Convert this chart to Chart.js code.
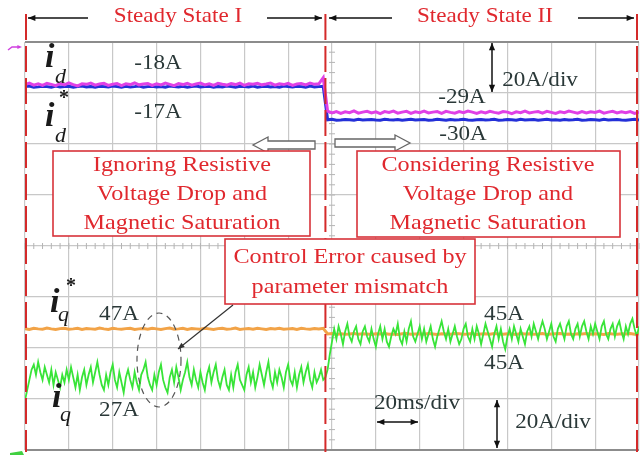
<!DOCTYPE html>
<html>
<head>
<meta charset="utf-8">
<script src="https://cdn.jsdelivr.net/npm/chart.js@4"></script>
<style>
  body { margin: 0; background: #fff; }
  canvas { display: block; }
</style>
</head>
<body>
<canvas id="scope" width="640" height="455"></canvas>
<script>
// time base: 20 ms/div, 14 divisions; switch to steady state II at ~137 ms
const stepCoarse = 2;   // ms, id / id* / iq*
const stepFine = 1;     // ms, iq

// id (magenta), A
const idLeft = [
  -18.2,-17.6,-18.4,-17.9,-18.5,-17.7,-18.1,-18.6,-17.8,-18.3,
  -17.5,-18.2,-18.7,-17.9,-18.1,-17.6,-18.4,-18.0,-17.7,-18.5,
  -18.1,-17.8,-18.6,-17.9,-18.2,-17.5,-18.3,-18.0,-17.8,-18.5,
  -17.9,-18.3,-17.6,-18.1,-18.6,-17.8,-18.2,-17.7,-18.4,-18.0,
  -17.6,-18.3,-17.9,-18.5,-17.7,-18.1,-18.4,-17.8,-18.2,-17.6,
  -18.5,-17.9,-18.1,-17.7,-18.3,-18.0,-17.6,-18.4,-17.9,-18.2,
  -17.7,-18.5,-18.0,-17.8,-18.3,-17.6,-18.1,-17.9,-15.5
];
const idRight = [
  -28.6,-29.3,-28.8,-29.5,-28.9,-29.2,-28.5,-29.4,-29.0,-28.7,
  -29.3,-28.9,-29.6,-28.8,-29.1,-28.6,-29.4,-29.0,-28.7,-29.5,
  -28.9,-29.2,-28.6,-29.3,-29.0,-28.8,-29.5,-28.7,-29.1,-29.4,
  -28.8,-29.2,-28.6,-29.0,-29.5,-28.9,-29.3,-28.7,-29.1,-29.4,
  -28.8,-29.0,-29.6,-28.9,-29.2,-28.6,-29.3,-29.0,-28.8,-29.4,
  -28.7,-29.1,-29.5,-28.9,-29.2,-28.6,-29.0,-29.4,-28.8,-29.3,
  -28.9,-29.1,-28.6,-29.4,-29.0,-28.7,-29.3,-28.9,-29.2,-28.8,
  -29.5,-29.0
];

// id* (blue), A
const idRefLeft = [
  -17.0,-16.8,-17.2,-17.1,-16.9,-17.0,-17.2,-16.8,-17.1,-17.0,
  -16.9,-17.2,-17.0,-16.8,-17.1,-17.0,-17.2,-16.9,-17.0,-17.1,
  -16.8,-17.0,-17.2,-16.9,-17.1,-17.0,-16.8,-17.2,-17.0,-16.9,
  -17.1,-17.0,-17.2,-16.8,-17.0,-17.1,-16.9,-17.2,-17.0,-16.8,
  -17.1,-17.0,-16.9,-17.2,-17.0,-17.1,-16.8,-17.0,-17.2,-16.9,
  -17.0,-17.1,-16.8,-17.2,-17.0,-16.9,-17.1,-17.0,-17.2,-16.8,
  -17.0,-17.1,-16.9,-17.0,-17.2,-16.8,-17.1,-17.0,-16.9
];
const idRefRight = [
  -30.0,-29.8,-30.2,-30.1,-29.9,-30.0,-30.2,-29.8,-30.1,-30.0,
  -29.9,-30.1,-30.2,-29.8,-30.0,-30.1,-29.9,-30.2,-30.0,-29.8,
  -30.1,-30.0,-29.9,-30.2,-30.1,-29.8,-30.0,-30.2,-29.9,-30.1,
  -30.0,-29.8,-30.1,-30.2,-30.0,-29.9,-30.1,-30.0,-29.8,-30.2,
  -30.1,-29.9,-30.0,-30.2,-29.8,-30.1,-30.0,-29.9,-30.2,-30.0,
  -29.8,-30.1,-30.0,-30.2,-29.9,-30.1,-30.0,-29.8,-30.2,-30.1,
  -29.9,-30.0,-30.2,-29.8,-30.1,-30.0,-29.9,-30.1,-30.2,-30.0,
  -29.8,-30.1
];

// iq* (orange), A
const iqRefLeft = [
  47.1,46.8,47.2,47.0,46.9,47.3,47.0,46.8,47.1,47.2,
  46.9,47.0,47.2,46.8,47.1,47.0,46.9,47.3,47.0,46.8,
  47.2,47.0,46.9,47.1,47.2,46.8,47.0,47.1,46.9,47.2,
  47.0,46.8,47.1,47.3,46.9,47.0,47.2,46.8,47.1,47.0,
  46.9,47.2,47.0,46.8,47.1,47.2,46.9,47.0,47.3,46.8,
  47.0,47.1,46.9,47.2,47.0,46.8,47.1,47.0,47.2,46.9,
  47.0,47.1,46.8,47.2,47.0,46.9,47.1,47.0,47.2
];
const iqRefRight = [
  45.0,45.2,44.8,45.1,44.9,45.0,45.2,44.9,45.1,45.0,
  44.8,45.1,45.0,45.2,44.9,45.0,44.8,45.1,45.2,44.9,
  45.0,45.1,44.9,45.2,45.0,44.8,45.1,45.0,44.9,45.2,
  45.1,44.9,45.0,45.2,44.8,45.0,45.1,44.9,45.2,45.0,
  44.9,45.1,45.0,44.8,45.2,45.0,45.1,44.9,45.0,45.2,
  44.8,45.0,45.1,45.2,44.9,45.0,44.8,45.1,45.0,45.2,
  44.9,45.1,45.0,44.8,45.2,45.0,44.9,45.1,45.0,45.2,
  44.9,45.0
];

// iq (green), A, 1 ms samples
const iqLeft = [
  19,23,27,31,33,29,34,30,27,32,29,26,31,25,30,27,24,29,26,31,
  27,32,28,24,29,23,28,31,25,29,32,26,30,34,29,25,23,29,25,30,
  33,27,24,30,26,22,28,31,27,24,30,26,23,29,31,34,28,25,23,29,
  25,30,33,27,24,22,28,31,26,32,28,23,27,30,34,28,25,31,27,24,
  30,26,23,29,32,26,30,33,27,24,28,31,25,23,29,24,30,33,27,25,
  23,29,32,26,30,24,28,33,29,25,30,34,27,24,30,26,31,28,24,30,
  33,27,25,30,24,29,32,26,30,33,27,24,30,26,28,31,27
];
const iqRight = [
  28,31,37,42,
  47,43,48,45,41,46,49,44,42,46,
  48,43,41,46,48,44,42,47,43,40,
  45,48,43,47,42,40,44,47,45,49,
  43,41,46,42,47,50,44,42,45,48,
  43,47,42,45,48,43,40,44,47,50,
  46,43,47,42,45,48,44,41,43,47,
  49,44,42,47,43,48,45,41,45,49,
  46,43,40,45,48,43,47,42,39,44,
  47,43,48,45,42,47,44,41,46,48,
  44,49,46,43,47,50,47,43,46,49,
  44,42,47,49,46,43,48,50,45,43,
  47,49,44,48,50,46,43,48,45,49,
  46,43,48,50,45,43,47,49,44,48,
  50,46,43,48,45,49,51,47,44,48
];

// channel positions on screen (A offsets, 20 A/div)
const ID_POS = 81.5;
const IDREF_POS = 79.5;
const IQ_POS = -79.5;

const idVals = idLeft.concat(idRight);
const idRefVals = idRefLeft.concat(idRefRight);
const iqRefVals = iqRefLeft.concat(iqRefRight);
const iqVals = iqLeft.concat(iqRight);

function toPoints(vals, step, pos) {
  return vals.map((v, i) => ({ x: i * step, y: v + pos }));
}

function text(ctx, s, x, y, font, color, sx, align) {
  ctx.save();
  ctx.translate(x, y);
  ctx.scale(sx || 1, 1);
  ctx.font = font;
  ctx.fillStyle = color;
  ctx.textAlign = align || 'center';
  ctx.textBaseline = 'middle';
  ctx.fillText(s, 0, 0);
  ctx.restore();
}

function sym(ctx, s, x, y, font) {
  ctx.font = font;
  ctx.fillStyle = '#1a1a1a';
  ctx.textAlign = 'left';
  ctx.textBaseline = 'alphabetic';
  ctx.fillText(s, x, y);
}

function arrowHead(ctx, x1, y1, x2, y2, size) {
  const a = Math.atan2(y2 - y1, x2 - x1);
  ctx.beginPath();
  ctx.moveTo(x2, y2);
  ctx.lineTo(x2 - size * Math.cos(a - 0.4), y2 - size * Math.sin(a - 0.4));
  ctx.lineTo(x2 - size * Math.cos(a + 0.4), y2 - size * Math.sin(a + 0.4));
  ctx.closePath();
  ctx.fill();
}

function arrow(ctx, x1, y1, x2, y2, both, w) {
  ctx.save();
  ctx.strokeStyle = '#111';
  ctx.fillStyle = '#111';
  ctx.lineWidth = w || 1.5;
  ctx.beginPath();
  ctx.moveTo(x1, y1);
  ctx.lineTo(x2, y2);
  ctx.stroke();
  arrowHead(ctx, x1, y1, x2, y2, 8);
  if (both) arrowHead(ctx, x2, y2, x1, y1, 8);
  ctx.restore();
}

function hollowArrow(ctx, tail, tip, y, dir) {
  const headLen = 15 * dir, hh = 8, sh = 4;
  ctx.save();
  ctx.beginPath();
  ctx.moveTo(tail, y - sh);
  ctx.lineTo(tip - headLen, y - sh);
  ctx.lineTo(tip - headLen, y - hh);
  ctx.lineTo(tip, y);
  ctx.lineTo(tip - headLen, y + hh);
  ctx.lineTo(tip - headLen, y + sh);
  ctx.lineTo(tail, y + sh);
  ctx.closePath();
  ctx.fillStyle = '#fff';
  ctx.fill();
  ctx.strokeStyle = '#666';
  ctx.lineWidth = 1.3;
  ctx.stroke();
  ctx.restore();
}

function box(ctx, x1, y1, x2, y2, lines, cx, ys, font) {
  ctx.save();
  ctx.fillStyle = '#fff';
  ctx.fillRect(x1, y1, x2 - x1, y2 - y1);
  ctx.strokeStyle = '#d8333a';
  ctx.lineWidth = 1.6;
  ctx.strokeRect(x1, y1, x2 - x1, y2 - y1);
  ctx.restore();
  lines.forEach((s, i) => text(ctx, s, cx, ys[i], font, '#e0282e', 1.1));
}

const scopeDecor = {
  id: 'scopeDecor',
  beforeDatasetsDraw(chart) {
    const { ctx, scales: { x, y }, chartArea: a } = chart;
    ctx.save();
    ctx.strokeStyle = '#b4b4b4';
    ctx.lineWidth = 1;
    // minor ticks on the centre lines
    const y0 = y.getPixelForValue(0), x0 = x.getPixelForValue(140);
    for (let t = 0; t <= 280; t += 4) {
      const px = x.getPixelForValue(t);
      ctx.beginPath(); ctx.moveTo(px, y0 - 3); ctx.lineTo(px, y0 + 3); ctx.stroke();
    }
    for (let v = -80; v <= 80; v += 4) {
      const py = y.getPixelForValue(v);
      ctx.beginPath(); ctx.moveTo(x0 - 3, py); ctx.lineTo(x0 + 3, py); ctx.stroke();
    }
    // top and bottom frame
    ctx.strokeStyle = '#8c8c8c';
    ctx.lineWidth = 2;
    ctx.beginPath(); ctx.moveTo(a.left, a.top); ctx.lineTo(a.right, a.top); ctx.stroke();
    ctx.beginPath(); ctx.moveTo(a.left, a.bottom); ctx.lineTo(a.right, a.bottom); ctx.stroke();
    ctx.restore();
  },
  afterDraw(chart) {
    const { ctx, scales: { x }, chartArea: a } = chart;
    ctx.save();
    // state boundaries
    ctx.strokeStyle = '#d42a2a';
    ctx.lineWidth = 2;
    ctx.setLineDash([26, 6]);
    [0, 137, 280].forEach(t => {
      const px = Math.min(x.getPixelForValue(t), a.right - 2) + (t === 0 ? 1 : 0);
      ctx.beginPath(); ctx.moveTo(px, 14); ctx.lineTo(px, a.bottom + 2); ctx.stroke();
    });
    ctx.setLineDash([]);
    ctx.restore();

    // top headings
    const serif = 'Liberation Serif';
    text(ctx, 'Steady State I', 178, 16, `22px "${serif}"`, '#e0282e', 1.05);
    text(ctx, 'Steady State II', 485, 16, `22px "${serif}"`, '#e0282e', 1.05);
    arrow(ctx, 88, 18, 28, 18);
    arrow(ctx, 267, 18, 322, 18);
    arrow(ctx, 392, 18, 329, 18);
    arrow(ctx, 578, 18, 634, 18);

    // channel markers
    ctx.save();
    ctx.strokeStyle = '#d040e0'; ctx.fillStyle = '#d040e0'; ctx.lineWidth = 1.5;
    ctx.beginPath(); ctx.moveTo(8, 50); ctx.lineTo(12, 47); ctx.lineTo(20, 47); ctx.stroke();
    arrowHead(ctx, 12, 47, 22, 47, 5);
    ctx.fillStyle = '#40d040';
    ctx.beginPath(); ctx.moveTo(10, 453); ctx.lineTo(22, 451); ctx.lineTo(24, 455); ctx.lineTo(10, 455); ctx.fill();
    ctx.restore();

    // trace labels
    const dark = '#2a3838';
    const lab = `21px "${serif}"`;
    sym(ctx, 'i', 45, 67, `italic bold 34px "${serif}"`);
    sym(ctx, 'd', 55, 83, `italic 22px "${serif}"`);
    sym(ctx, 'i', 45, 126, `italic bold 34px "${serif}"`);
    sym(ctx, '*', 59, 104, `bold 20px "${serif}"`);
    sym(ctx, 'd', 55, 142, `italic 22px "${serif}"`);
    sym(ctx, 'i', 50, 312, `italic bold 34px "${serif}"`);
    sym(ctx, '*', 66, 292, `bold 20px "${serif}"`);
    sym(ctx, 'q', 58, 321, `italic 22px "${serif}"`);
    sym(ctx, 'i', 52, 407, `italic bold 34px "${serif}"`);
    sym(ctx, 'q', 60, 421, `italic 22px "${serif}"`);

    text(ctx, '-18A', 158, 63, lab, dark, 1.1);
    text(ctx, '-17A', 158, 112, lab, dark, 1.1);
    text(ctx, '-29A', 462, 97, lab, dark, 1.1);
    text(ctx, '-30A', 463, 134, lab, dark, 1.1);
    text(ctx, '20A/div', 540, 80, lab, dark, 1.1);
    arrow(ctx, 492, 43, 492, 92, true, 1.5);
    text(ctx, '47A', 119, 314, lab, dark, 1.1);
    text(ctx, '27A', 119, 410, lab, dark, 1.1);
    text(ctx, '45A', 504, 314, lab, dark, 1.1);
    text(ctx, '45A', 504, 363, lab, dark, 1.1);
    text(ctx, '20ms/div', 417, 403, lab, dark, 1.1);
    arrow(ctx, 377, 422, 418, 422, true, 1.5);
    arrow(ctx, 497, 400, 497, 448, true, 1.5);
    text(ctx, '20A/div', 553, 422, lab, dark, 1.1);

    // hollow arrows around the switch instant
    hollowArrow(ctx, 315, 253, 145, -1);
    hollowArrow(ctx, 335, 410, 143, 1);

    // explanation boxes
    const bf = `22px "${serif}"`;
    box(ctx, 53, 151, 310, 236, ['Ignoring Resistive', 'Voltage Drop and', 'Magnetic Saturation'], 182, [165, 194, 223], bf);
    box(ctx, 357, 151, 620, 237, ['Considering Resistive', 'Voltage Drop and', 'Magnetic Saturation'], 488, [165, 194, 223], bf);
    box(ctx, 225, 239, 475, 304, ['Control Error caused by', 'parameter mismatch'], 350, [257, 287], bf);

    // control error pointer and dashed ellipse
    ctx.save();
    ctx.strokeStyle = '#555';
    ctx.lineWidth = 1.2;
    ctx.setLineDash([6, 5]);
    ctx.beginPath();
    ctx.ellipse(159, 360, 22, 47, 0, 0, Math.PI * 2);
    ctx.stroke();
    ctx.restore();
    ctx.save();
    ctx.strokeStyle = '#333'; ctx.fillStyle = '#333'; ctx.lineWidth = 1.2;
    ctx.beginPath(); ctx.moveTo(233, 305); ctx.lineTo(178, 349); ctx.stroke();
    arrowHead(ctx, 233, 305, 178, 349, 7);
    ctx.restore();
  }
};

new Chart(document.getElementById('scope'), {
  type: 'line',
  data: {
    datasets: [
      { label: 'iq', data: toPoints(iqVals, stepFine, IQ_POS), borderColor: '#38e438', borderWidth: 1.8 },
      { label: 'iq*', data: toPoints(iqRefVals, stepCoarse, IQ_POS), borderColor: '#f2a347', borderWidth: 3 },
      { label: 'id', data: toPoints(idVals, stepCoarse, ID_POS), borderColor: '#e040e6', borderWidth: 3 },
      { label: 'id*', data: toPoints(idRefVals, stepCoarse, IDREF_POS), borderColor: '#2430d8', borderWidth: 3 }
    ]
  },
  options: {
    responsive: false,
    animation: false,
    layout: { padding: { left: 25, right: 1, top: 42, bottom: 5 } },
    elements: { point: { radius: 0 }, line: { tension: 0 } },
    plugins: { legend: { display: false }, tooltip: { enabled: false } },
    scales: {
      x: {
        type: 'linear', min: 0, max: 280,
        ticks: { display: false, stepSize: 20 },
        grid: { color: '#c8c8c8', lineWidth: 1.2, drawTicks: false },
        border: { display: false }
      },
      y: {
        type: 'linear', min: -80, max: 80,
        ticks: { display: false, stepSize: 20 },
        grid: { color: '#c8c8c8', lineWidth: 1.2, drawTicks: false },
        border: { display: false }
      }
    }
  },
  plugins: [scopeDecor]
});
</script>
</body>
</html>
